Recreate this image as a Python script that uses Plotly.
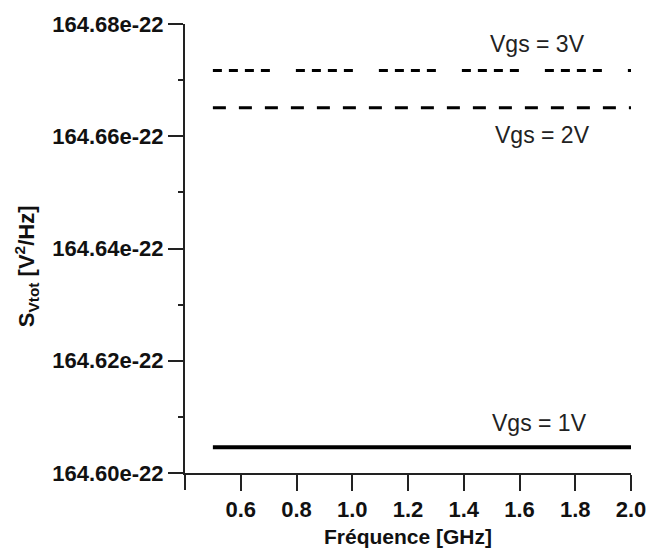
import plotly.graph_objects as go

# Data (y in units of 1e-22 V^2/Hz)
freq_ghz = [0.5, 2.0]
s_vgs1 = [164.6046, 164.6046]
s_vgs2 = [164.6651, 164.6651]
s_vgs3 = [164.6717, 164.6717]
series_labels = ["Vgs = 1V", "Vgs = 2V", "Vgs = 3V"]

x_tickvals = [0.6, 0.8, 1.0, 1.2, 1.4, 1.6, 1.8, 2.0]
x_ticktext = ["0.6", "0.8", "1.0", "1.2", "1.4", "1.6", "1.8", "2.0"]
y_tickvals = [164.60, 164.62, 164.64, 164.66, 164.68]
y_ticktext = ["164.60e-22", "164.62e-22", "164.64e-22", "164.66e-22", "164.68e-22"]
y_minor_vals = [164.61, 164.63, 164.65, 164.67]
y_range = [164.60, 164.68]

FONT = "Liberation Sans Narrow, Arial Narrow, Liberation Sans, Arial"
tick_font = dict(family=FONT, size=22, color="#111111", weight="bold")
label_font = dict(family="Liberation Sans, Arial", size=23, color="#222222")

fig = go.Figure()
fig.add_trace(go.Scatter(x=freq_ghz, y=s_vgs1, mode="lines", name=series_labels[0],
                         line=dict(color="black", width=4)))
fig.add_trace(go.Scatter(x=freq_ghz, y=s_vgs2, mode="lines", name=series_labels[1],
                         line=dict(color="black", width=3, dash="13px,13px")))
fig.add_trace(go.Scatter(x=freq_ghz, y=s_vgs3, mode="lines", name=series_labels[2],
                         line=dict(color="black", width=3,
                                   dash="9px,7px,9px,7px,9px,7px,9px,26px")))

fig.add_annotation(x=1.673, y=164.6089, text=series_labels[0], showarrow=False, font=label_font)
fig.add_annotation(x=1.684, y=164.6603, text=series_labels[1], showarrow=False, font=label_font)
fig.add_annotation(x=1.663, y=164.6765, text=series_labels[2], showarrow=False, font=label_font)

fig.add_annotation(xref="paper", yref="paper", x=-0.355, y=0.46, xanchor="center", yanchor="middle",
                   text="S<sub>Vtot</sub> [V<sup>2</sup>/Hz]", textangle=-90, showarrow=False,
                   font=dict(family=FONT, size=22, color="#111111", weight="bold"))

# y-axis line continuation below the x axis (as in the reference)
fig.add_shape(type="line", xref="paper", yref="paper", x0=0, x1=0, y0=0, y1=-0.038,
              line=dict(color="#222", width=2))

fig.update_layout(
    width=661, height=558,
    margin=dict(l=185, r=30, t=22, b=85),
    paper_bgcolor="white", plot_bgcolor="white",
    showlegend=False,
    xaxis=dict(range=[0.4, 2.0], tickvals=x_tickvals, ticktext=x_ticktext,
               ticks="outside", ticklen=16, tickwidth=2, tickcolor="#222",
               showline=True, linecolor="#222", linewidth=2, showgrid=False, zeroline=False,
               tickfont=tick_font,
               title=dict(text="Fréquence [GHz]", standoff=8,
                          font=dict(family=FONT, size=21, color="#111111", weight="bold"))),
    yaxis=dict(range=y_range, tickvals=y_tickvals, ticktext=y_ticktext,
               ticks="outside", ticklen=15, tickwidth=2, tickcolor="#222",
               minor=dict(ticks="outside", ticklen=5, tickvals=y_minor_vals,
                          tickcolor="#222", tickwidth=2, showgrid=False),
               showline=True, linecolor="#222", linewidth=2, showgrid=False, zeroline=False,
               tickfont=tick_font),
)

fig.write_html("out.html")
